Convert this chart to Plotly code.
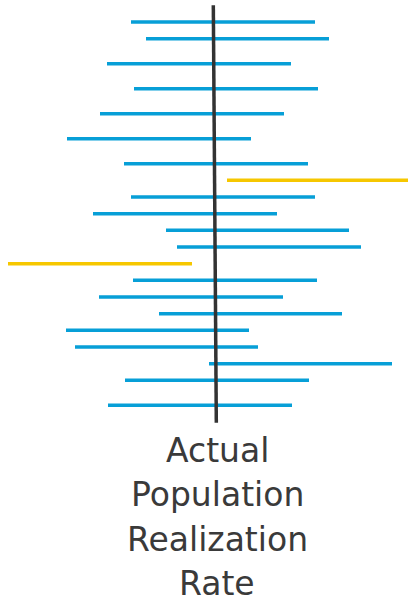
import plotly.graph_objects as go

# Interval estimates of the realization rate (%), one per sample
sample_pos = [0, 2, 5, 8, 11, 14, 17, 19, 21, 23, 25, 27, 29, 31, 33, 35, 37, 39, 41, 43, 46]
lower = [79.25, 83.0, 73.25, 80.0, 71.5, 63.25, 77.5, 103.25, 79.25, 69.75, 88.0,
         90.75, 48.5, 79.75, 71.25, 86.25, 63.0, 65.25, 98.75, 77.75, 73.5]
upper = [125.25, 128.75, 119.25, 126.0, 117.5, 109.25, 123.5, 149.25, 125.25, 115.75, 133.75,
         136.75, 94.5, 125.75, 117.25, 132.0, 108.75, 111.0, 144.5, 123.75, 119.5]

# Actual population realization rate line (top/bottom ends)
true_x_top = 99.83
true_x_bottom = 100.58
true_y_top = -2.0
true_y_bottom = 48.1

title_lines = ["Actual", "Population", "Realization", "Rate"]

BLUE = "#079fd7"
YELLOW = "#f6c700"

fig = go.Figure()

cover_x, cover_y, miss_x, miss_y = [], [], [], []
for y, lo, hi in zip(sample_pos, lower, upper):
    covers = lo <= 100 <= hi
    xs = cover_x if covers else miss_x
    ys = cover_y if covers else miss_y
    xs += [lo, hi, None]
    ys += [y, y, None]

fig.add_trace(go.Scatter(x=cover_x, y=cover_y, mode="lines",
                         line=dict(color=BLUE, width=3.5), hoverinfo="skip"))
fig.add_trace(go.Scatter(x=miss_x, y=miss_y, mode="lines",
                         line=dict(color=YELLOW, width=3.5), hoverinfo="skip"))

fig.add_shape(type="line", x0=true_x_top, x1=true_x_bottom, y0=true_y_top, y1=true_y_bottom,
              xref="x", yref="y", line=dict(color="#333333", width=3.5), layer="above")

title_px = [450, 494.5, 539, 583]
for t, py in zip(title_lines, title_px):
    fig.add_annotation(text=t, x=100.75, xref="x", y=1 - py / 602, yref="paper",
                       showarrow=False, xanchor="center", yanchor="middle",
                       font=dict(family="DejaVu Sans", size=33, color="#3a3a3a"))

fig.update_layout(
    width=408, height=602,
    margin=dict(l=0, r=0, t=0, b=0),
    paper_bgcolor="white", plot_bgcolor="white",
    showlegend=False,
    xaxis=dict(range=[46.5, 148.5], visible=False, fixedrange=True),
    yaxis=dict(range=[69.6, -2.64], visible=False, fixedrange=True),
)

fig.write_html("out.html", config={"displayModeBar": False, "staticPlot": True},
               post_script="document.body.style.margin='0';document.body.style.overflow='hidden';")
